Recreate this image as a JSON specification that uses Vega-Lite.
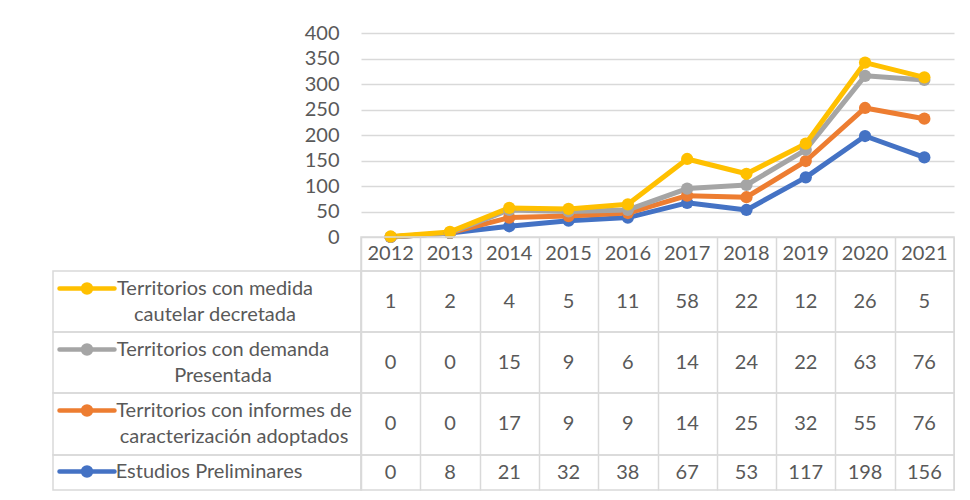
{
  "$schema": "https://vega.github.io/schema/vega-lite/v6.json",
  "padding": {"left": 52, "top": 23, "right": 0, "bottom": 0},
  "bounds": "flush",
  "spacing": 0,
  "columns": 2,
  "datasets": {
    "t": [
      {"serie": "Estudios Preliminares", "k": 0, "year": "2012", "v": 0},
      {"serie": "Estudios Preliminares", "k": 0, "year": "2013", "v": 8},
      {"serie": "Estudios Preliminares", "k": 0, "year": "2014", "v": 21},
      {"serie": "Estudios Preliminares", "k": 0, "year": "2015", "v": 32},
      {"serie": "Estudios Preliminares", "k": 0, "year": "2016", "v": 38},
      {"serie": "Estudios Preliminares", "k": 0, "year": "2017", "v": 67},
      {"serie": "Estudios Preliminares", "k": 0, "year": "2018", "v": 53},
      {"serie": "Estudios Preliminares", "k": 0, "year": "2019", "v": 117},
      {"serie": "Estudios Preliminares", "k": 0, "year": "2020", "v": 198},
      {"serie": "Estudios Preliminares", "k": 0, "year": "2021", "v": 156},
      {"serie": "Territorios con informes de\ncaracterización adoptados", "k": 1, "year": "2012", "v": 0},
      {"serie": "Territorios con informes de\ncaracterización adoptados", "k": 1, "year": "2013", "v": 0},
      {"serie": "Territorios con informes de\ncaracterización adoptados", "k": 1, "year": "2014", "v": 17},
      {"serie": "Territorios con informes de\ncaracterización adoptados", "k": 1, "year": "2015", "v": 9},
      {"serie": "Territorios con informes de\ncaracterización adoptados", "k": 1, "year": "2016", "v": 9},
      {"serie": "Territorios con informes de\ncaracterización adoptados", "k": 1, "year": "2017", "v": 14},
      {"serie": "Territorios con informes de\ncaracterización adoptados", "k": 1, "year": "2018", "v": 25},
      {"serie": "Territorios con informes de\ncaracterización adoptados", "k": 1, "year": "2019", "v": 32},
      {"serie": "Territorios con informes de\ncaracterización adoptados", "k": 1, "year": "2020", "v": 55},
      {"serie": "Territorios con informes de\ncaracterización adoptados", "k": 1, "year": "2021", "v": 76},
      {"serie": "Territorios con demanda\nPresentada", "k": 2, "year": "2012", "v": 0},
      {"serie": "Territorios con demanda\nPresentada", "k": 2, "year": "2013", "v": 0},
      {"serie": "Territorios con demanda\nPresentada", "k": 2, "year": "2014", "v": 15},
      {"serie": "Territorios con demanda\nPresentada", "k": 2, "year": "2015", "v": 9},
      {"serie": "Territorios con demanda\nPresentada", "k": 2, "year": "2016", "v": 6},
      {"serie": "Territorios con demanda\nPresentada", "k": 2, "year": "2017", "v": 14},
      {"serie": "Territorios con demanda\nPresentada", "k": 2, "year": "2018", "v": 24},
      {"serie": "Territorios con demanda\nPresentada", "k": 2, "year": "2019", "v": 22},
      {"serie": "Territorios con demanda\nPresentada", "k": 2, "year": "2020", "v": 63},
      {"serie": "Territorios con demanda\nPresentada", "k": 2, "year": "2021", "v": 76},
      {"serie": "Territorios con medida\ncautelar decretada", "k": 3, "year": "2012", "v": 1},
      {"serie": "Territorios con medida\ncautelar decretada", "k": 3, "year": "2013", "v": 2},
      {"serie": "Territorios con medida\ncautelar decretada", "k": 3, "year": "2014", "v": 4},
      {"serie": "Territorios con medida\ncautelar decretada", "k": 3, "year": "2015", "v": 5},
      {"serie": "Territorios con medida\ncautelar decretada", "k": 3, "year": "2016", "v": 11},
      {"serie": "Territorios con medida\ncautelar decretada", "k": 3, "year": "2017", "v": 58},
      {"serie": "Territorios con medida\ncautelar decretada", "k": 3, "year": "2018", "v": 22},
      {"serie": "Territorios con medida\ncautelar decretada", "k": 3, "year": "2019", "v": 12},
      {"serie": "Territorios con medida\ncautelar decretada", "k": 3, "year": "2020", "v": 26},
      {"serie": "Territorios con medida\ncautelar decretada", "k": 3, "year": "2021", "v": 5}
    ]
  },
  "concat": [
    {
      "width": 308, "height": 204,
      "view": {"stroke": null},
      "data": {"values": [{}]},
      "mark": {"type": "text", "text": ""},
      "encoding": {}
    },
    {
      "width": 593, "height": 204,
      "view": {"stroke": null},
      "data": {"name": "t"},
      "transform": [{"stack": "v", "groupby": ["year"], "sort": [{"field": "k"}], "as": ["y0", "y1"]}],
      "mark": {"type": "line", "strokeWidth": 5, "strokeJoin": "round", "strokeCap": "round", "point": {"filled": true, "size": 150, "opacity": 1}},
      "encoding": {
        "x": {"field": "year", "type": "ordinal", "scale": {"type": "point", "padding": 0.5}, "axis": null},
        "y": {"field": "y1", "type": "quantitative", "scale": {"domain": [0, 400], "nice": false},
          "axis": {"values": [0, 50, 100, 150, 200, 250, 300, 350, 400], "grid": true, "gridColor": "#d9d9d9", "gridWidth": 1.5, "domain": false, "ticks": false, "labelPadding": 22, "labelFontSize": 20, "labelColor": "#595959", "labelFont": "Lato", "title": null}},
        "color": {"field": "serie", "type": "nominal",
          "scale": {"domain": ["Estudios Preliminares", "Territorios con informes de\ncaracterización adoptados", "Territorios con demanda\nPresentada", "Territorios con medida\ncautelar decretada"],
                    "range": ["#4472C4", "#ED7D31", "#A5A5A5", "#FFC000"]},
          "legend": null}
      }
    },
    {
      "width": 308, "height": 34,
      "view": {"stroke": null},
      "data": {"values": [{}]},
      "mark": {"type": "text", "text": ""},
      "encoding": {}
    },
    {
      "width": 593, "height": 34,
      "data": {"name": "t"},
      "transform": [{"filter": "datum.k == 0"}],
      "mark": {"type": "text", "fontSize": 20, "color": "#595959", "font": "Lato"},
      "encoding": {
        "x": {"field": "year", "type": "ordinal", "scale": {"type": "band", "paddingInner": 0, "paddingOuter": 0},
          "axis": {"grid": true, "tickBand": "extent", "labels": false, "ticks": false, "domain": false, "title": null, "gridColor": "#d9d9d9", "gridWidth": 1.5}},
        "text": {"field": "year", "type": "nominal"}
      }
    },
    {
      "width": 308, "height": 61,
      "data": {"name": "t"},
      "transform": [{"filter": "datum.k == 3"}],
      "mark": {"type": "text", "text": ""},
      "encoding": {
        "x": {"field": "serie", "type": "nominal", "scale": {"type": "band"}, "axis": null},
        "color": {"field": "serie", "type": "nominal", "scale": {"range": ["#FFC000"]},
          "legend": {"orient": "none", "legendX": 4, "legendY": -12.5, "title": null, "padding": 0,
            "symbolType": "M-1,0H1M0.145,0A0.145,0.145,0,1,1,-0.145,0A0.145,0.145,0,1,1,0.145,0Z",
            "symbolSize": 3025, "symbolStrokeWidth": 4.5,
            "labelFontSize": 20, "labelColor": "#595959", "labelFont": "Lato", "labelOffset": 98, "labelLimit": 400,
            "labelAlign": "center", "labelBaseline": "top", "labelExpr": "split(datum.label, '\\n')",
            "encode": {"labels": {"update": {"lineHeight": {"value": 26}, "dy": {"value": -10}}},
                       "symbols": {"update": {"fill": {"value": "#FFC000"}, "stroke": {"value": "#FFC000"}, "strokeCap": {"value": "round"}}}}}}
      }
    },
    {
      "width": 593, "height": 61,
      "data": {"name": "t"},
      "transform": [{"filter": "datum.k == 3"}],
      "mark": {"type": "text", "fontSize": 20, "color": "#595959", "font": "Lato"},
      "encoding": {
        "x": {"field": "year", "type": "ordinal", "scale": {"type": "band", "paddingInner": 0, "paddingOuter": 0},
          "axis": {"grid": true, "tickBand": "extent", "labels": false, "ticks": false, "domain": false, "title": null, "gridColor": "#d9d9d9", "gridWidth": 1.5}},
        "text": {"field": "v", "type": "quantitative"}
      }
    },
    {
      "width": 308, "height": 61,
      "data": {"name": "t"},
      "transform": [{"filter": "datum.k == 2"}],
      "mark": {"type": "text", "text": ""},
      "encoding": {
        "x": {"field": "serie", "type": "nominal", "scale": {"type": "band"}, "axis": null},
        "color": {"field": "serie", "type": "nominal", "scale": {"range": ["#A5A5A5"]},
          "legend": {"orient": "none", "legendX": 4, "legendY": -12.5, "title": null, "padding": 0,
            "symbolType": "M-1,0H1M0.145,0A0.145,0.145,0,1,1,-0.145,0A0.145,0.145,0,1,1,0.145,0Z",
            "symbolSize": 3025, "symbolStrokeWidth": 4.5,
            "labelFontSize": 20, "labelColor": "#595959", "labelFont": "Lato", "labelOffset": 106, "labelLimit": 400,
            "labelAlign": "center", "labelBaseline": "top", "labelExpr": "split(datum.label, '\\n')",
            "encode": {"labels": {"update": {"lineHeight": {"value": 26}, "dy": {"value": -10}}},
                       "symbols": {"update": {"fill": {"value": "#A5A5A5"}, "stroke": {"value": "#A5A5A5"}, "strokeCap": {"value": "round"}}}}}}
      }
    },
    {
      "width": 593, "height": 61,
      "data": {"name": "t"},
      "transform": [{"filter": "datum.k == 2"}],
      "mark": {"type": "text", "fontSize": 20, "color": "#595959", "font": "Lato"},
      "encoding": {
        "x": {"field": "year", "type": "ordinal", "scale": {"type": "band", "paddingInner": 0, "paddingOuter": 0},
          "axis": {"grid": true, "tickBand": "extent", "labels": false, "ticks": false, "domain": false, "title": null, "gridColor": "#d9d9d9", "gridWidth": 1.5}},
        "text": {"field": "v", "type": "quantitative"}
      }
    },
    {
      "width": 308, "height": 62,
      "data": {"name": "t"},
      "transform": [{"filter": "datum.k == 1"}],
      "mark": {"type": "text", "text": ""},
      "encoding": {
        "x": {"field": "serie", "type": "nominal", "scale": {"type": "band"}, "axis": null},
        "color": {"field": "serie", "type": "nominal", "scale": {"range": ["#ED7D31"]},
          "legend": {"orient": "none", "legendX": 4, "legendY": -12.5, "title": null, "padding": 0,
            "symbolType": "M-1,0H1M0.145,0A0.145,0.145,0,1,1,-0.145,0A0.145,0.145,0,1,1,0.145,0Z",
            "symbolSize": 3025, "symbolStrokeWidth": 4.5,
            "labelFontSize": 20, "labelColor": "#595959", "labelFont": "Lato", "labelOffset": 117, "labelLimit": 400,
            "labelAlign": "center", "labelBaseline": "top", "labelExpr": "split(datum.label, '\\n')",
            "encode": {"labels": {"update": {"lineHeight": {"value": 26}, "dy": {"value": -10}}},
                       "symbols": {"update": {"fill": {"value": "#ED7D31"}, "stroke": {"value": "#ED7D31"}, "strokeCap": {"value": "round"}}}}}}
      }
    },
    {
      "width": 593, "height": 62,
      "data": {"name": "t"},
      "transform": [{"filter": "datum.k == 1"}],
      "mark": {"type": "text", "fontSize": 20, "color": "#595959", "font": "Lato"},
      "encoding": {
        "x": {"field": "year", "type": "ordinal", "scale": {"type": "band", "paddingInner": 0, "paddingOuter": 0},
          "axis": {"grid": true, "tickBand": "extent", "labels": false, "ticks": false, "domain": false, "title": null, "gridColor": "#d9d9d9", "gridWidth": 1.5}},
        "text": {"field": "v", "type": "quantitative"}
      }
    },
    {
      "width": 308, "height": 35,
      "data": {"name": "t"},
      "transform": [{"filter": "datum.k == 0"}],
      "mark": {"type": "text", "text": ""},
      "encoding": {
        "x": {"field": "serie", "type": "nominal", "scale": {"type": "band"}, "axis": null},
        "color": {"field": "serie", "type": "nominal", "scale": {"range": ["#4472C4"]},
          "legend": {"orient": "none", "legendX": 4, "legendY": -13.5, "title": null, "padding": 0,
            "symbolType": "M-1,0H1M0.145,0A0.145,0.145,0,1,1,-0.145,0A0.145,0.145,0,1,1,0.145,0Z",
            "symbolSize": 3025, "symbolStrokeWidth": 4.5,
            "labelFontSize": 20, "labelColor": "#595959", "labelFont": "Lato", "labelOffset": 92, "labelLimit": 400,
            "labelAlign": "center", "labelBaseline": "top", "labelExpr": "split(datum.label, '\\n')",
            "encode": {"labels": {"update": {"lineHeight": {"value": 26}, "dy": {"value": -10}}},
                       "symbols": {"update": {"fill": {"value": "#4472C4"}, "stroke": {"value": "#4472C4"}, "strokeCap": {"value": "round"}}}}}}
      }
    },
    {
      "width": 593, "height": 35,
      "data": {"name": "t"},
      "transform": [{"filter": "datum.k == 0"}],
      "mark": {"type": "text", "fontSize": 20, "color": "#595959", "font": "Lato"},
      "encoding": {
        "x": {"field": "year", "type": "ordinal", "scale": {"type": "band", "paddingInner": 0, "paddingOuter": 0},
          "axis": {"grid": true, "tickBand": "extent", "labels": false, "ticks": false, "domain": false, "title": null, "gridColor": "#d9d9d9", "gridWidth": 1.5}},
        "text": {"field": "v", "type": "quantitative"}
      }
    }
  ],
  "resolve": {"scale": {"color": "independent"}, "legend": {"color": "independent"}},
  "config": {
    "font": "Lato",
    "view": {"stroke": "#d9d9d9", "strokeWidth": 1.5}
  }
}
